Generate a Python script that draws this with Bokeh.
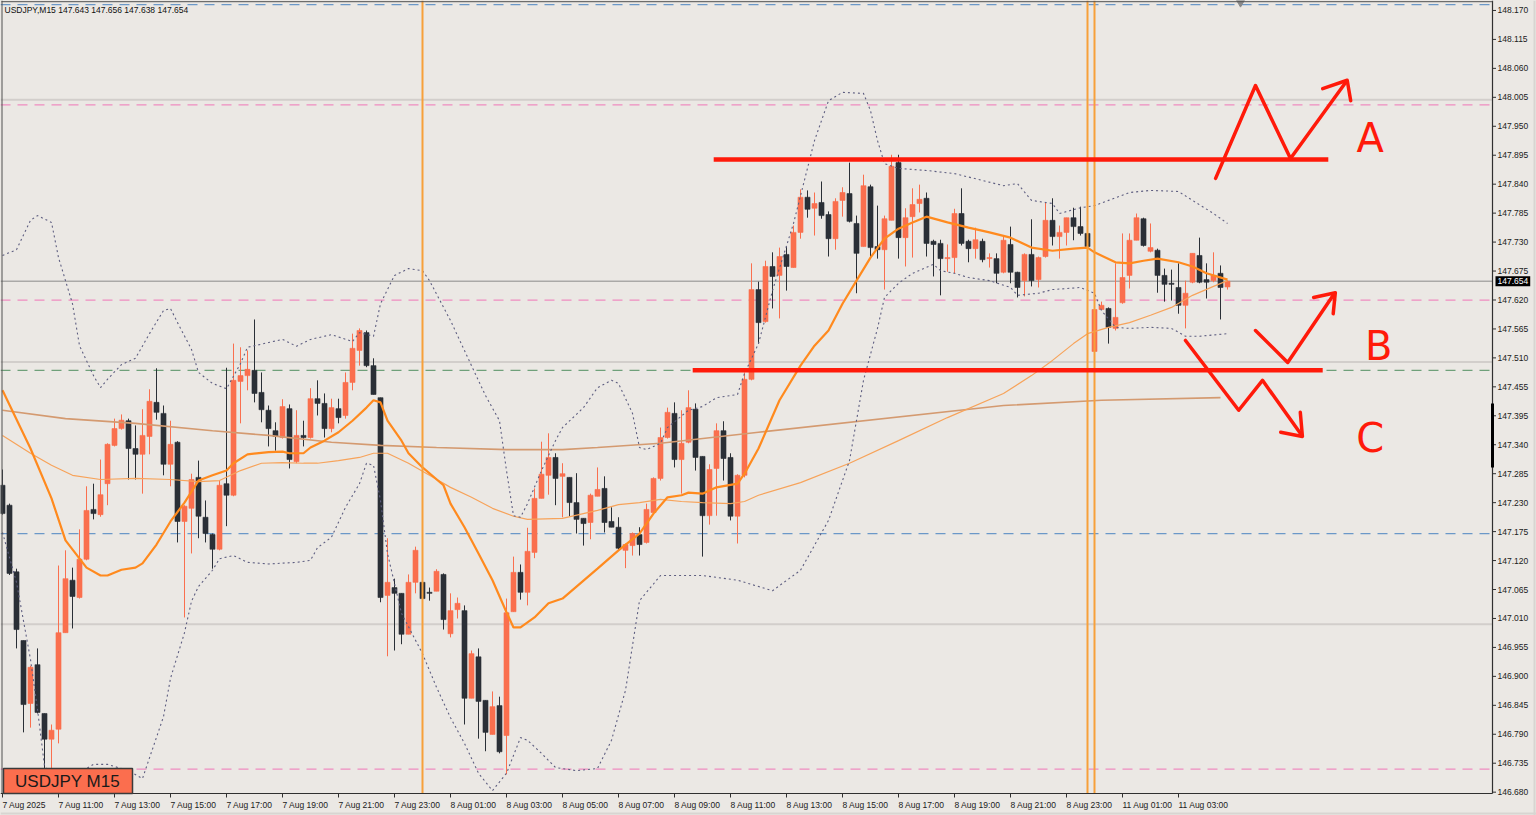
from bokeh.plotting import figure
from bokeh.models import ColumnDataSource, Span, Label, GlobalInlineStyleSheet
from bokeh.core.properties import value
from bokeh.embed import file_html
from bokeh.resources import INLINE

# ---------------- data (USDJPY M15, bar 0 = 7 Aug 2025 09:00) ----------------
opens = [147.265,147.227,147.100,146.969,146.849,146.923,146.830,146.781,146.800,146.984,
147.084,147.051,147.124,147.219,147.209,147.268,147.341,147.373,147.388,147.335,
147.324,147.358,147.423,147.402,147.305,147.347,147.196,147.221,147.280,147.204,
147.171,147.143,147.268,147.246,147.463,147.474,147.484,147.442,147.408,147.369,
147.356,147.411,147.310,147.360,147.356,147.430,147.421,147.373,147.411,147.398,
147.461,147.522,147.556,147.493,147.432,147.055,147.070,147.059,146.981,147.080,
147.080,147.061,147.063,147.095,146.982,147.028,147.026,146.859,146.938,146.855,
146.790,146.845,146.788,147.024,147.099,147.061,147.137,147.240,147.284,147.318,
147.282,147.280,147.232,147.202,147.194,147.244,147.259,147.196,147.185,147.141,
147.150,147.171,147.156,147.213,147.278,147.356,147.402,147.314,147.347,147.410,
147.320,147.207,147.297,147.369,147.318,147.206,147.284,147.467,147.638,147.577,
147.682,147.665,147.705,147.680,147.747,147.814,147.793,147.804,147.781,147.735,
147.808,147.821,147.764,147.720,147.834,147.720,147.714,147.770,147.880,147.737,
147.777,147.802,147.812,147.730,147.726,147.697,147.699,147.783,147.730,147.716,
147.730,147.697,147.697,147.671,147.724,147.671,147.655,147.705,147.657,147.701,
147.770,147.739,147.747,147.775,147.758,147.745,147.520,147.600,147.602,147.564,
147.613,147.665,147.732,147.773,147.711,147.713,147.665,147.650,147.642,147.608,
147.652,147.703,147.657,147.655,147.669,147.643]
highs = [147.295,147.230,147.106,146.969,146.921,146.954,146.830,146.809,147.112,147.141,
147.108,147.181,147.263,147.268,147.314,147.345,147.392,147.400,147.392,147.379,
147.410,147.448,147.488,147.417,147.388,147.349,147.227,147.287,147.312,147.236,
147.173,147.274,147.489,147.535,147.528,147.522,147.581,147.480,147.417,147.385,
147.429,147.419,147.408,147.388,147.450,147.465,147.440,147.430,147.430,147.480,
147.554,147.564,147.560,147.507,147.432,147.164,147.087,147.059,147.095,147.148,
147.080,147.070,147.105,147.097,147.059,147.051,147.036,146.950,146.954,146.855,
146.872,146.862,147.049,147.129,147.114,147.184,147.259,147.348,147.364,147.326,
147.307,147.280,147.288,147.202,147.249,147.299,147.282,147.223,147.204,147.154,
147.175,147.185,147.230,147.280,147.375,147.413,147.423,147.408,147.446,147.421,
147.320,147.305,147.383,147.387,147.326,147.286,147.480,147.688,147.653,147.693,
147.709,147.718,147.720,147.760,147.829,147.827,147.823,147.844,147.787,147.812,
147.833,147.880,147.779,147.857,147.838,147.798,147.779,147.895,147.895,147.793,
147.831,147.838,147.823,147.733,147.733,147.724,147.792,147.831,147.733,147.756,
147.735,147.707,147.707,147.741,147.758,147.672,147.707,147.772,147.701,147.804,
147.812,147.760,147.775,147.794,147.796,147.796,147.602,147.615,147.604,147.688,
147.745,147.745,147.783,147.775,147.764,147.716,147.678,147.676,147.688,147.655,
147.707,147.737,147.688,147.709,147.684,147.656]
lows = [147.209,147.094,146.954,146.794,146.803,146.830,146.721,146.724,146.773,146.984,
146.992,147.049,147.122,147.200,147.205,147.227,147.339,147.371,147.276,147.276,
147.249,147.324,147.390,147.284,147.263,147.156,147.013,147.135,147.164,147.156,
147.106,147.141,147.187,147.244,147.383,147.446,147.423,147.385,147.339,147.331,
147.354,147.297,147.307,147.339,147.354,147.398,147.356,147.366,147.383,147.392,
147.446,147.493,147.490,147.438,147.042,146.939,146.950,146.962,146.981,147.059,
147.038,147.045,147.063,146.990,146.975,147.011,146.809,146.859,146.782,146.758,
146.790,146.754,146.714,147.024,147.047,147.036,147.126,147.240,147.247,147.227,
147.204,147.206,147.173,147.150,147.162,147.244,147.175,147.185,147.141,147.107,
147.131,147.131,147.154,147.211,147.274,147.354,147.299,147.249,147.345,147.293,
147.129,147.190,147.207,147.274,147.198,147.154,147.280,147.465,147.535,147.575,
147.602,147.583,147.636,147.680,147.735,147.775,147.741,147.773,147.701,147.714,
147.777,147.766,147.631,147.720,147.699,147.697,147.638,147.770,147.697,147.682,
147.699,147.785,147.701,147.663,147.627,147.672,147.669,147.722,147.690,147.697,
147.690,147.680,147.650,147.669,147.650,147.623,147.625,147.644,147.642,147.699,
147.722,147.697,147.722,147.732,147.741,147.676,147.520,147.600,147.535,147.560,
147.611,147.640,147.732,147.720,147.709,147.632,147.615,147.617,147.592,147.564,
147.650,147.650,147.621,147.652,147.581,147.638]
closes = [147.211,147.097,146.990,146.847,146.918,146.832,146.781,146.798,146.984,147.087,
147.053,147.124,147.217,147.211,147.247,147.343,147.373,147.389,147.335,147.324,
147.360,147.425,147.404,147.305,147.343,147.196,147.225,147.276,147.206,147.173,
147.143,147.265,147.246,147.465,147.474,147.486,147.440,147.409,147.373,147.358,
147.415,147.314,147.360,147.356,147.430,147.421,147.373,147.413,147.394,147.461,
147.526,147.560,147.493,147.438,147.051,147.080,147.059,146.981,147.080,147.141,
147.049,147.059,147.101,147.009,147.026,147.040,146.859,146.944,146.853,146.794,
146.843,146.757,147.022,147.099,147.061,147.139,147.240,147.286,147.318,147.278,
147.287,147.232,147.200,147.192,147.246,147.257,147.194,147.185,147.145,147.152,
147.173,147.152,147.219,147.278,147.356,147.404,147.314,147.345,147.413,147.318,
147.207,147.295,147.369,147.316,147.206,147.284,147.467,147.638,147.575,147.682,
147.663,147.701,147.682,147.747,147.814,147.791,147.802,147.779,147.735,147.806,
147.823,147.768,147.707,147.836,147.718,147.714,147.773,147.873,147.737,147.775,
147.800,147.810,147.726,147.724,147.697,147.699,147.783,147.726,147.716,147.733,
147.695,147.699,147.669,147.732,147.671,147.642,147.705,147.655,147.699,147.770,
147.739,147.747,147.775,147.758,147.745,147.720,147.600,147.608,147.566,147.585,
147.661,147.732,147.775,147.722,147.718,147.665,147.648,147.648,147.608,147.631,
147.707,147.652,147.652,147.665,147.642,147.654]

# moving averages / bands (bar index, price)
ma20_bar = [0,4,7,9,12,14,15,17,19,20,22,24,26,28,30,32,33,35,38,40,41,43,44,46,48,50,52,53,54,55,57,58,60,63,64,66,68,70,72,73,74,76,78,80,85,88,91,93,95,97,98,100,102,105,106,108,111,114,116,118,120,122,124,126,128,130,132,135,138,141,144,147,150,153,155,156,159,161,163,165,168,170,172,175]
ma20_val = [147.446,147.335,147.240,147.160,147.108,147.093,147.093,147.104,147.108,147.116,147.152,147.196,147.232,147.274,147.284,147.293,147.307,147.324,147.328,147.329,147.326,147.326,147.337,147.350,147.366,147.388,147.413,147.427,147.423,147.388,147.350,147.326,147.299,147.265,147.230,147.185,147.135,147.084,147.023,146.994,146.994,147.013,147.040,147.049,147.106,147.141,147.173,147.211,147.242,147.246,147.251,147.249,147.261,147.268,147.287,147.335,147.427,147.493,147.531,147.560,147.611,147.655,147.699,147.735,147.754,147.766,147.777,147.766,147.756,147.747,147.737,147.718,147.712,147.716,147.718,147.709,147.690,147.688,147.693,147.697,147.690,147.682,147.669,147.657]
ma75_bar = [0,4,7,10,14,19,24,28,31,34,37,40,43,45,48,51,53,55,58,61,64,67,70,73,75,80,85,88,91,94,97,100,104,106,108,114,121,128,135,143,147,150,153,155,158,161,164,167,170,173,175]
ma75_val = [147.360,147.326,147.303,147.284,147.276,147.278,147.276,147.272,147.274,147.293,147.307,147.308,147.307,147.307,147.312,147.318,147.326,147.326,147.307,147.284,147.261,147.242,147.221,147.206,147.200,147.202,147.217,147.228,147.232,147.238,147.234,147.232,147.230,147.234,147.246,147.270,147.307,147.350,147.394,147.440,147.474,147.503,147.535,147.554,147.566,147.575,147.589,147.604,147.627,147.644,147.655]
ma200_bar = [0,9,19,30,38,47,54,62,72,80,85,94,108,143,157,174]
ma200_val = [147.408,147.392,147.383,147.369,147.360,147.347,147.341,147.337,147.333,147.333,147.337,147.345,147.366,147.417,147.427,147.432]
bb_up_bar = [0,2,4,5,7,8,10,11,13,14,15,17,19,21,23,24,25,27,28,30,32,34,35,38,40,42,44,47,50,51,53,54,56,58,60,61,64,67,69,71,72,73,74,75,77,79,80,83,85,87,88,90,91,92,94,95,98,100,102,105,106,108,110,113,116,118,120,123,124,125,126,128,132,136,140,143,145,147,150,151,154,156,158,161,164,168,170,173,175]
bb_up_val = [147.703,147.714,147.770,147.779,147.766,147.699,147.611,147.531,147.474,147.451,147.467,147.495,147.507,147.554,147.598,147.602,147.575,147.524,147.480,147.459,147.449,147.497,147.528,147.537,147.543,147.530,147.543,147.552,147.539,147.556,147.549,147.611,147.665,147.678,147.674,147.655,147.579,147.493,147.436,147.388,147.293,147.207,147.204,147.230,147.293,147.350,147.375,147.413,147.451,147.465,147.459,147.402,147.337,147.333,147.345,147.375,147.408,147.415,147.432,147.438,147.478,147.535,147.636,147.764,147.922,147.998,148.014,148.012,147.979,147.922,147.878,147.869,147.865,147.859,147.846,147.836,147.840,147.808,147.802,147.783,147.794,147.798,147.808,147.823,147.827,147.825,147.808,147.783,147.764]
bb_lo_bar = [0,2,4,5,6,8,13,15,18,20,23,24,26,27,28,30,31,33,35,38,42,44,45,47,49,51,52,53,54,55,57,60,62,64,66,68,70,72,74,75,77,79,82,85,87,89,91,94,100,105,110,114,118,121,123,125,126,128,130,133,134,136,138,141,144,145,148,150,154,156,157,159,161,164,167,169,171,175]
bb_lo_val = [147.175,147.080,146.933,146.838,146.730,146.693,146.733,146.733,146.721,146.706,146.824,146.897,146.984,147.044,147.072,147.103,147.125,147.131,147.118,147.115,147.118,147.122,147.146,147.166,147.223,147.268,147.307,147.303,147.236,147.135,147.021,146.944,146.880,146.822,146.773,146.716,146.683,146.716,146.784,146.779,146.754,146.727,146.721,146.725,146.779,146.874,147.045,147.093,147.093,147.084,147.064,147.103,147.198,147.312,147.465,147.564,147.623,147.650,147.669,147.686,147.674,147.669,147.661,147.655,147.642,147.627,147.631,147.638,147.642,147.631,147.598,147.566,147.564,147.566,147.564,147.549,147.549,147.554]

# horizontal levels (price) and vertical separators (bar index)
levels_round = [148.000, 147.500, 147.000]
level_pink = [147.990, 147.618, 146.724]
level_blue = [148.181, 147.173]
level_green = [147.484]
vlines_bar = [60, 155, 156]

# analyst drawings (bar index, price)
res_line = dict(x0=101.6, x1=189.4, y=147.886)
sup_line = dict(x0=98.6, x1=188.6, y=147.484)
path_A_x = [173.3, 179.0, 184.0, 191.9]; path_A_y = [147.850, 148.027, 147.888, 148.033]
head_A_x = [188.6, 192.1, 192.6];        head_A_y = [148.021, 148.037, 147.998]
path_B_x = [179.0, 183.6, 190.1];        path_B_y = [147.560, 147.499, 147.627]
head_B_x = [187.3, 190.4, 190.1];        head_B_y = [147.623, 147.632, 147.592]
path_C_x = [169.0, 176.6, 180.0, 185.4]; path_C_y = [147.541, 147.408, 147.465, 147.364]
head_C_x = [182.6, 185.7, 185.4];        head_C_y = [147.366, 147.358, 147.404]
letters = ["A", "B", "C"]
letters_x = [195.4, 196.6, 195.4]
letters_y = [147.926, 147.531, 147.356]

# axis ticks
xtick_bars = [0, 8, 16, 24, 32, 40, 48, 56, 64, 72, 80, 88, 96, 104, 112, 120, 128, 136, 144, 152, 160, 168]
xtick_labels = ["7 Aug 2025", "7 Aug 11:00", "7 Aug 13:00", "7 Aug 15:00", "7 Aug 17:00", "7 Aug 19:00",
                "7 Aug 21:00", "7 Aug 23:00", "8 Aug 01:00", "8 Aug 03:00", "8 Aug 05:00", "8 Aug 07:00",
                "8 Aug 09:00", "8 Aug 11:00", "8 Aug 13:00", "8 Aug 15:00", "8 Aug 17:00", "8 Aug 19:00",
                "8 Aug 21:00", "8 Aug 23:00", "11 Aug 01:00", "11 Aug 03:00"]
ytick_labels = ["146.680", "146.735", "146.790", "146.845", "146.900", "146.955", "147.010", "147.065",
                "147.120", "147.175", "147.230", "147.285", "147.340", "147.395", "147.455", "147.510",
                "147.565", "147.620", "147.675", "147.730", "147.785", "147.840", "147.895", "147.950",
                "148.005", "148.060", "148.115", "148.170"]

# ---------------- figure ----------------
BG = "#ebe8e4"
BULL = "#fa6f4e"
BEAR = "#2a2f36"
AXC = "#303030"
W, H = 1536, 815
PX_PER_BAR = 7.0
P_TOP, P_PER_PX = 148.189, 0.0019061
SCALE_X = 1492   # pixel column of the price scale line
AXIS_Y = 793     # pixel row of the time scale line


def ax(xpx):
    return (xpx - 2) / PX_PER_BAR


def ay(ypx):
    return P_TOP - P_PER_PX * ypx


p = figure(width=W, height=H, output_backend="svg", toolbar_location=None, tools="",
           x_axis_location=None, y_axis_location=None, x_range=(ax(0), ax(W)), y_range=(ay(H), ay(0)),
           min_border_left=0, min_border_right=0, min_border_top=0, min_border_bottom=0,
           background_fill_color=BG, border_fill_color=BG)
p.stylesheets = [GlobalInlineStyleSheet(css="html,body{margin:0;padding:0;overflow:hidden;background:#ebe8e4;}")]
p.grid.visible = False
p.outline_line_color = None

# levels (beneath candles)
for lv in levels_round:
    p.add_layout(Span(location=lv, dimension="width", line_color="#d2cecb", line_width=2, level="underlay"))
p.add_layout(Span(location=closes[-1], dimension="width", line_color="#8a8a8a", line_width=1, level="underlay"))
for lv in level_pink:
    p.add_layout(Span(location=lv, dimension="width", line_color="#f08cc0", line_width=1.3,
                      line_dash="10 7", level="underlay"))
for lv in level_blue:
    p.add_layout(Span(location=lv, dimension="width", line_color="#6b98c8", line_width=1.3,
                      line_dash="10 7", level="underlay"))
for lv in level_green:
    p.add_layout(Span(location=lv, dimension="width", line_color="#6fa07a", line_width=1.3,
                      line_dash="10 7", level="underlay"))

# candles
idx = list(range(len(opens)))
cols = [BULL if c >= o else BEAR for o, c in zip(opens, closes)]
src = ColumnDataSource(dict(x=idx, o=opens, h=highs, l=lows, c=closes,
                            top=[max(o, c) for o, c in zip(opens, closes)],
                            bot=[min(o, c) for o, c in zip(opens, closes)], col=cols))
p.segment(x0="x", y0="l", x1="x", y1="h", line_color="col", line_width=1, source=src)
p.vbar(x="x", width=0.72, top="top", bottom="bot", fill_color="col", line_color="col",
       line_width=0.6, source=src)

# indicators
p.line(ma200_bar, ma200_val, line_color="#d49a70", line_width=1.6)
p.line(ma75_bar, ma75_val, line_color="#f7a35a", line_width=1.2)
p.line(bb_up_bar, bb_up_val, line_color="#5e5e80", line_width=1.1, line_dash="2 3")
p.line(bb_lo_bar, bb_lo_val, line_color="#5e5e80", line_width=1.1, line_dash="2 3")
p.line(ma20_bar, ma20_val, line_color="#ff8a1e", line_width=2.2)

# vertical separators
p.segment(x0=vlines_bar, x1=vlines_bar, y0=[ay(0)] * len(vlines_bar), y1=[ay(AXIS_Y)] * len(vlines_bar),
          line_color="#f7a03a", line_width=2)

# analyst drawings
RED = "#ff1a0a"
p.segment(x0=[res_line["x0"], sup_line["x0"]], x1=[res_line["x1"], sup_line["x1"]],
          y0=[res_line["y"], sup_line["y"]], y1=[res_line["y"], sup_line["y"]],
          line_color=RED, line_width=4.5)
for xs, ys in [(path_A_x, path_A_y), (head_A_x, head_A_y), (path_B_x, path_B_y),
               (head_B_x, head_B_y), (path_C_x, path_C_y), (head_C_x, head_C_y)]:
    p.line(xs, ys, line_color=RED, line_width=3.5, line_join="round", line_cap="round")
p.text(x=letters_x, y=letters_y, text=letters, text_color=RED, text_font=value("DejaVu Sans"),
       text_font_size="40px", text_align="center", text_baseline="middle")

# shift marker at top
p.scatter(x=[ax(1240)], y=[ay(2)], marker="inverted_triangle", size=8, fill_color="#8a8a8a",
          line_color="#8a8a8a")

# ---- scale panels ----
p.quad(left=[ax(SCALE_X)], right=[ax(W)], top=[ay(0)], bottom=[ay(H)], fill_color=BG, line_color=None)
p.quad(left=[ax(0)], right=[ax(SCALE_X)], top=[ay(AXIS_Y)], bottom=[ay(H)], fill_color=BG, line_color=None)
p.segment(x0=[ax(SCALE_X)], x1=[ax(SCALE_X)], y0=[ay(0)], y1=[ay(AXIS_Y)], line_color=AXC, line_width=1.2)
p.segment(x0=[ax(1.5)], x1=[ax(1.5)], y0=[ay(0)], y1=[ay(AXIS_Y)], line_color="#505050", line_width=1)
p.segment(x0=[ax(1)], x1=[ax(SCALE_X)], y0=[ay(1.2)], y1=[ay(1.2)], line_color="#505050", line_width=1)
p.segment(x0=[ax(0)], x1=[ax(SCALE_X)], y0=[ay(AXIS_Y)], y1=[ay(AXIS_Y)], line_color=AXC, line_width=1.2)
p.segment(x0=[ax(W - 2)], x1=[ax(W - 2)], y0=[ay(0)], y1=[ay(H)], line_color="#d8d5d1", line_width=2)
p.segment(x0=[ax(0)], x1=[ax(W)], y0=[ay(H - 2)], y1=[ay(H - 2)], line_color="#d8d5d1", line_width=2)

# price scale
ytick_vals = [146.680 + k * (148.170 - 146.680) / 27 for k in range(28)]
p.segment(x0=[ax(SCALE_X)] * 28, x1=[ax(SCALE_X + 3.5)] * 28, y0=ytick_vals, y1=ytick_vals,
          line_color=AXC, line_width=1)
p.text(x=[ax(SCALE_X + 5)] * 28, y=ytick_vals, text=ytick_labels, text_font=value("Liberation Sans"),
       text_font_size="8.5px", text_color="#202020", text_baseline="middle", text_align="left")
p.quad(left=[ax(SCALE_X - 1.5)], right=[ax(SCALE_X + 1.5)], top=[ay(403)], bottom=[ay(467)],
       fill_color="black", line_color=None)

# time scale
p.segment(x0=xtick_bars, x1=xtick_bars, y0=[ay(AXIS_Y)] * len(xtick_bars), y1=[ay(AXIS_Y + 4)] * len(xtick_bars),
          line_color=AXC, line_width=1)
p.text(x=xtick_bars, y=[ay(AXIS_Y + 11)] * len(xtick_bars), text=xtick_labels,
       text_font=value("Liberation Sans"), text_font_size="8.5px", text_color="#202020",
       text_baseline="middle", text_align="left")

# info labels
p.add_layout(Label(x=ax(4), y=ay(9), text=f"USDJPY,M15  {opens[-1]:.3f} {highs[-1]:.3f} {lows[-1]:.3f} {closes[-1]:.3f}",
                   text_font="Liberation Sans", text_font_size="8.5px", text_color="#101010",
                   text_baseline="middle"))
p.quad(left=[ax(3)], right=[ax(132)], top=[ay(768)], bottom=[ay(AXIS_Y)], fill_color="#fb6e4e",
       line_color="#3a3a3a", line_width=1.5)
p.add_layout(Label(x=ax(67), y=ay(781), text="USDJPY M15", text_font="Liberation Sans",
                   text_font_size="17px", text_color="#1a1a1a", text_align="center",
                   text_baseline="middle"))
p.add_layout(Label(x=ax(SCALE_X + 3), y=closes[-1], text=f"{closes[-1]:.3f}",
                   text_font="Liberation Sans", text_font_size="8.5px", text_color="white",
                   background_fill_color="black", background_fill_alpha=1.0, padding=2,
                   text_baseline="middle"))

open("out.html", "w").write(file_html(p, INLINE))
